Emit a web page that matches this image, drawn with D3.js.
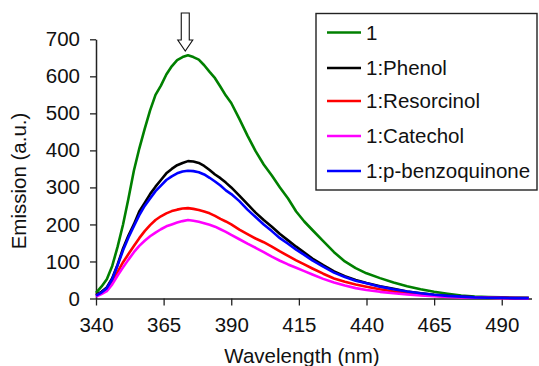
<!DOCTYPE html>
<html>
<head>
<meta charset="utf-8">
<script src="https://cdn.jsdelivr.net/npm/d3@7"></script>
<style>
  html, body { margin: 0; padding: 0; background: #fff; }
  svg { display: block; font-family: "Liberation Sans", Arial, Helvetica, sans-serif; }
</style>
</head>
<body>
<div id="chart"></div>
<script>
// wavelength grid (nm) shared by all series
const wavelengths = [340, 342, 344, 346, 348, 350, 352, 354, 356, 358, 360, 362, 364, 366, 368, 370, 372, 374, 376, 378,
  380, 382, 384, 386, 388, 390, 393, 396, 399, 402, 405, 408, 411, 414, 417, 420, 424, 428, 432, 436,
  440, 445, 450, 455, 460, 465, 470, 475, 480, 485, 490, 495, 500];

const emission1 = [15, 32, 52, 88, 140, 200, 270, 345, 405, 458, 508, 550, 575, 605, 627, 644, 652, 657, 652, 645,
  630, 612, 595, 572, 548, 528, 485, 440, 398, 362, 332, 300, 270, 235, 208, 185, 155, 125, 100, 82,
  68, 55, 43, 33, 25, 18, 13, 8, 5, 4, 3, 2, 1];
const emissionPhenol = [10, 18, 30, 55, 92, 135, 170, 200, 235, 258, 282, 302, 320, 338, 350, 360, 366, 371, 370, 366,
  358, 347, 335, 325, 313, 300, 278, 255, 232, 212, 194, 174, 157, 140, 124, 108, 90, 73, 60, 50,
  42, 33, 26, 19, 14, 10, 7, 5, 3, 2, 2, 1, 1];
const emissionResorcinol = [8, 15, 25, 45, 72, 98, 120, 142, 163, 182, 198, 212, 222, 230, 236, 240, 243, 244, 242, 239,
  235, 230, 223, 215, 208, 200, 186, 174, 162, 152, 140, 127, 115, 103, 92, 81, 67, 54, 45, 38,
  32, 25, 19, 14, 10, 8, 5, 4, 3, 2, 2, 1, 1];
const emissionCatechol = [5, 12, 20, 38, 62, 84, 105, 125, 142, 156, 168, 178, 187, 195, 200, 205, 209, 212, 210, 207,
  203, 199, 194, 187, 180, 172, 160, 148, 137, 125, 113, 102, 92, 83, 74, 65, 53, 43, 35, 28,
  23, 18, 14, 11, 8, 6, 4, 3, 2, 2, 1, 1, 0];
const emissionBenzoquinone = [8, 16, 28, 52, 90, 130, 165, 195, 225, 250, 270, 290, 305, 320, 330, 338, 343, 345, 344, 341,
  335, 326, 316, 305, 292, 282, 263, 240, 220, 200, 182, 163, 148, 132, 118, 103, 86, 70, 58, 48,
  41, 32, 25, 19, 14, 10, 7, 5, 3, 2, 2, 1, 1];

const seriesNames = ['1', '1:Phenol', '1:Resorcinol', '1:Catechol', '1:p-benzoquinone'];
const seriesValues = [emission1, emissionPhenol, emissionResorcinol, emissionCatechol, emissionBenzoquinone];
const seriesColors = ['#008000', '#000000', '#ff0000', '#ff00ff', '#0000ff'];

const xTicks = [340, 365, 390, 415, 440, 465, 490];
const yTicks = [0, 100, 200, 300, 400, 500, 600, 700];
const peakWavelength = 373;

const width = 539, height = 366;

const svg = d3.select('#chart')
  .append('svg')
    .attr('width', width)
    .attr('height', height);

const x = d3.scaleLinear().domain([340, 501]).range([96, 531.5]);
const y = d3.scaleLinear().domain([0, 700]).range([298.5, 39.3]);

// axes
const xAxis = svg.append('g')
  .attr('transform', `translate(0,${y(0)})`)
  .call(d3.axisBottom(x).tickValues(xTicks).tickSize(7).tickPadding(12).tickSizeOuter(0));
xAxis.selectAll('text')
  .style('font-size', '20.5px')
  .style('fill', '#111');

const yAxis = svg.append('g')
  .attr('transform', `translate(${x(340)},0)`)
  .call(d3.axisLeft(y).tickValues(yTicks).tickSize(6).tickPadding(10).tickSizeOuter(0));
yAxis.selectAll('text')
  .style('font-size', '20.5px')
  .style('fill', '#111');

svg.selectAll('.domain').attr('stroke', '#222').attr('stroke-width', 1.5);
svg.selectAll('.tick line').attr('stroke', '#222').attr('stroke-width', 1.3);

// axis titles
svg.append('text')
  .attr('x', 302)
  .attr('y', 363)
  .attr('text-anchor', 'middle')
  .style('font-size', '20.5px')
  .style('fill', '#111')
  .text('Wavelength (nm)');

svg.append('text')
  .attr('transform', 'translate(26,181) rotate(-90)')
  .attr('text-anchor', 'middle')
  .style('font-size', '20.5px')
  .style('fill', '#111')
  .text('Emission (a.u.)');

// curves
const line = d3.line()
  .x((d, i) => x(wavelengths[i]))
  .y(d => y(d));

svg.append('g')
  .selectAll('path')
  .data(seriesValues)
  .enter()
  .append('path')
    .attr('d', d => line(d))
    .attr('fill', 'none')
    .attr('stroke', (d, i) => seriesColors[i])
    .attr('stroke-width', 2.6)
    .attr('stroke-linejoin', 'round');

// hollow arrow marking the peak
const ax = x(peakWavelength);
svg.append('path')
  .attr('d', `M${ax - 4},13 L${ax + 4},13 L${ax + 4},40 L${ax + 7.5},40 L${ax},51 L${ax - 7.5},40 L${ax - 4},40 Z`)
  .attr('fill', '#fff')
  .attr('stroke', '#111')
  .attr('stroke-width', 1.1);

// legend
const legend = svg.append('g');
legend.append('rect')
  .attr('x', 316)
  .attr('y', 13.5)
  .attr('width', 221)
  .attr('height', 176.5)
  .attr('fill', '#fff')
  .attr('stroke', '#222')
  .attr('stroke-width', 1.4);

const rowY = [32.5, 68, 101, 136, 171];
const items = legend.selectAll('.item')
  .data(seriesNames)
  .enter()
  .append('g')
    .attr('class', 'item')
    .attr('transform', (d, i) => `translate(0,${rowY[i]})`);

items.append('line')
  .attr('x1', 327)
  .attr('x2', 361)
  .attr('stroke', (d, i) => seriesColors[i])
  .attr('stroke-width', 2.6);

items.append('text')
  .attr('x', 366)
  .attr('dy', '0.35em')
  .style('font-size', '20.5px')
  .style('fill', '#111')
  .text(d => d);
</script>
</body>
</html>
